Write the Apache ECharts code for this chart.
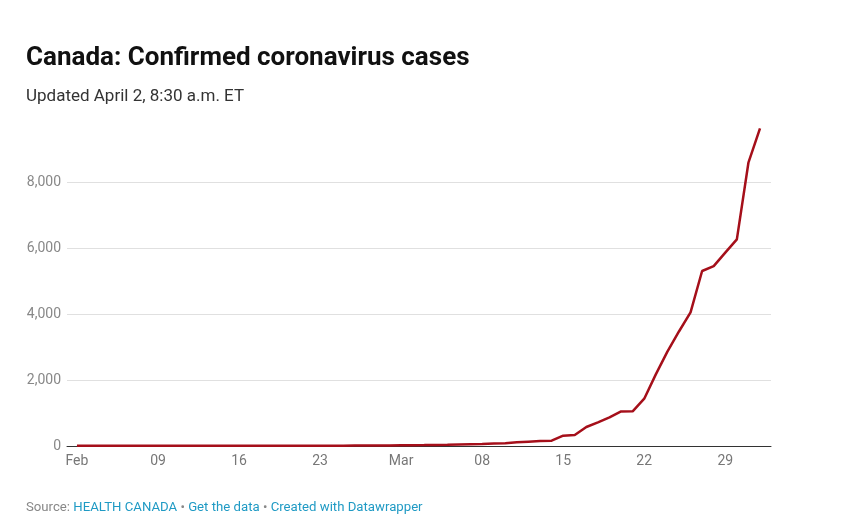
<!DOCTYPE html>
<html>
<head>
<meta charset="utf-8">
<script src="https://cdn.jsdelivr.net/npm/echarts@6/dist/echarts.min.js"></script>
<style>
	html, body { margin:0; padding:0; background:#fff; }
	#chart { width:867px; height:528px; }
</style>
</head>
<body>
<div id="chart"></div>
<script>
// dates Feb 2 .. Apr 1 (one value per day)
var dayLabels = ['Feb','03','04','05','06','07','08','09','10','11','12','13','14','15','16','17','18','19','20','21','22','23','24','25','26','27','28','29',
	'Mar','02','03','04','05','06','07','08','09','10','11','12','13','14','15','16','17','18','19','20','21','22','23','24','25','26','27','28','29','30','31','Apr'];
// confirmed cases
var cases = [4,4,4,5,5,5,5,7,7,7,7,7,7,7,7,7,8,8,8,9,9,9,10,11,12,13,14,16,
	20,24,27,33,37,46,54,62,75,82,113,132,150,162,313,333,576,717,869,1048,1052,1434,2170,2858,3470,4050,5303,5450,5860,6262,8585,
	9625];
// weekly ticks (indexes into dayLabels)
var tickIndexes = [0,7,14,21,28,35,42,49,56];
var yTicks = [0,2000,4000,6000,8000];

var chartData = [];
for(var i=0;i<cases.length;i++){
	chartData.push([i, cases[i]]);
}

var myChart = echarts.init(document.getElementById('chart'));
var option = {
	backgroundColor:'#fff',
	animation:false,
	title:[
		{
			text:'Canada: Confirmed coronavirus cases',
			left:26, top:45, padding:0,
			textStyle:{ fontFamily:'Roboto', fontSize:26, fontWeight:'bold', color:'#111' }
		},
		{
			text:'Updated April 2, 8:30 a.m. ET',
			left:26, top:88, padding:0,
			textStyle:{ fontFamily:'Roboto', fontSize:17, fontWeight:'normal', color:'#333' }
		},
		{
			text:'{g|Source: }{b|HEALTH CANADA}{g| • }{b|Get the data}{g| • }{b|Created with Datawrapper}',
			left:26, top:501, padding:0,
			textStyle:{
				fontFamily:'Roboto', fontSize:13.2, fontWeight:'normal',
				rich:{
					g:{ fontFamily:'Roboto', fontSize:13.2, color:'#888' },
					b:{ fontFamily:'Roboto', fontSize:13.2, color:'#1f9ac4' }
				}
			}
		}
	],
	grid:{ left:67, right:96, top:116, bottom:82 },
	xAxis:{
		type:'value',
		min:-0.86,
		max:59.95,
		axisLine:{ show:true, lineStyle:{ color:'#333', width:1 } },
		axisTick:{ show:false },
		splitLine:{ show:false },
		axisLabel:{
			customValues:tickIndexes,
			color:'#777',
			fontFamily:'Roboto',
			fontSize:14,
			margin:8,
			formatter:function(v){ return dayLabels[Math.round(v)]; }
		}
	},
	yAxis:{
		type:'value',
		min:0,
		max:10000,
		axisLine:{ show:false },
		axisTick:{ show:false },
		axisLabel:{
			customValues:yTicks,
			color:'#888',
			fontFamily:'Roboto',
			fontSize:14,
			margin:6,
			formatter:function(v){ return v.toLocaleString('en-US'); }
		},
		splitLine:{ show:true, showMaxLine:false, lineStyle:{ color:'#e0e0e0', width:1 } }
	},
	series:[
		{
			type:'line',
			data:chartData,
			showSymbol:false,
			lineStyle:{ color:'#a50f1a', width:2.5 },
			itemStyle:{ color:'#a50f1a' }
		}
	]
};
myChart.setOption(option);
</script>
</body>
</html>
